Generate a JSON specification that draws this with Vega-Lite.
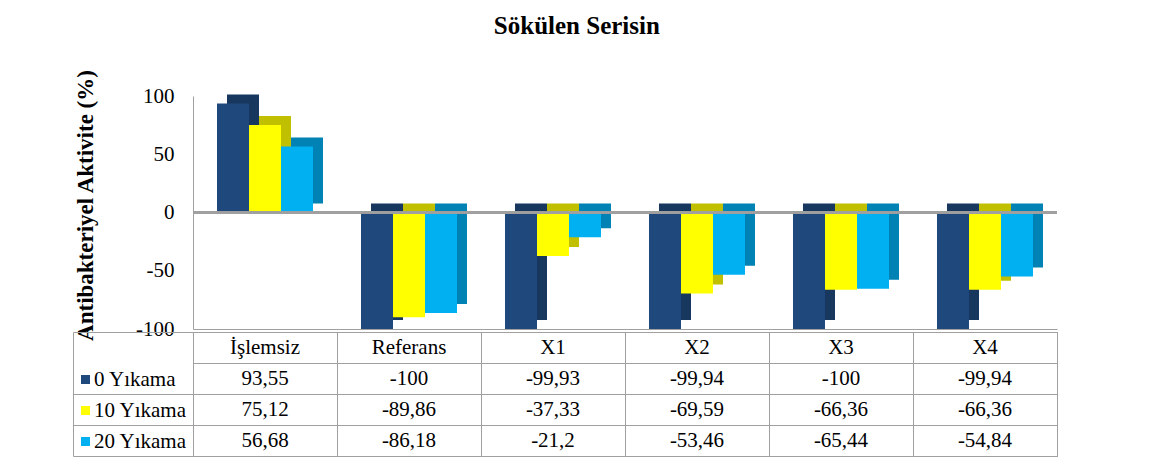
{
  "$schema": "https://vega.github.io/schema/vega-lite/v6.json",
  "padding": {"left": 72, "top": 13, "right": 5, "bottom": 5},
  "title": {"text": "Sökülen Serisin", "font": "Liberation Serif, Times New Roman, serif", "fontSize": 25, "fontWeight": "bold", "anchor": "middle", "offset": 30, "color": "black", "dx": 12},
  "datasets": {
    "vals": [
      {"cat": "İşlemsiz", "series": "0 Yıkama", "value": 93.55},
      {"cat": "İşlemsiz", "series": "10 Yıkama", "value": 75.12},
      {"cat": "İşlemsiz", "series": "20 Yıkama", "value": 56.68},
      {"cat": "Referans", "series": "0 Yıkama", "value": -100},
      {"cat": "Referans", "series": "10 Yıkama", "value": -89.86},
      {"cat": "Referans", "series": "20 Yıkama", "value": -86.18},
      {"cat": "X1", "series": "0 Yıkama", "value": -99.93},
      {"cat": "X1", "series": "10 Yıkama", "value": -37.33},
      {"cat": "X1", "series": "20 Yıkama", "value": -21.2},
      {"cat": "X2", "series": "0 Yıkama", "value": -99.94},
      {"cat": "X2", "series": "10 Yıkama", "value": -69.59},
      {"cat": "X2", "series": "20 Yıkama", "value": -53.46},
      {"cat": "X3", "series": "0 Yıkama", "value": -100},
      {"cat": "X3", "series": "10 Yıkama", "value": -66.36},
      {"cat": "X3", "series": "20 Yıkama", "value": -65.44},
      {"cat": "X4", "series": "0 Yıkama", "value": -99.94},
      {"cat": "X4", "series": "10 Yıkama", "value": -66.36},
      {"cat": "X4", "series": "20 Yıkama", "value": -54.84}
    ]
  },
  "data": {"name": "vals"},
  "spacing": 3,
  "bounds": "flush",
  "vconcat": [
    {
      "width": 864,
      "height": 233,
      "view": {"stroke": null},
      "layer": [
        {
          "mark": {"type": "bar", "yOffset": -9},
          "encoding": {
            "x": {"field": "cat", "type": "nominal", "scale": {"domain": ["İşlemsiz", "Referans", "X1", "X2", "X3", "X4"], "paddingInner": 0.3333, "paddingOuter": 0.1667}, "axis": {"labels": false, "ticks": false, "title": null, "domain": true, "domainColor": "#a0a0a0"}},
            "xOffset": {"field": "series", "type": "nominal", "scale": {"domain": ["0 Yıkama", "10 Yıkama", "20 Yıkama"], "range": [10, 106], "padding": 0}},
            "y": {"field": "value", "type": "quantitative", "scale": {"domain": [-100, 100]}},
            "color": {"field": "series", "type": "nominal", "scale": {"domain": ["0 Yıkama", "10 Yıkama", "20 Yıkama"], "range": ["#17375e", "#c0c000", "#0082b4"]}, "legend": null}
          }
        },
        {
          "mark": {"type": "bar"},
          "encoding": {
            "x": {"field": "cat", "type": "nominal"},
            "xOffset": {"field": "series", "type": "nominal", "scale": {"domain": ["0 Yıkama", "10 Yıkama", "20 Yıkama"], "padding": 0}},
            "y": {"field": "value", "type": "quantitative", "scale": {"domain": [-100, 100]}, "axis": {"values": [-100, -50, 0, 50, 100], "format": "d", "title": "Antibakteriyel Aktivite (%)", "titleFontSize": 23, "titleFontWeight": "bold", "titlePadding": 38, "titleY": 109, "grid": false, "ticks": false, "labelPadding": 19, "domainColor": "#a0a0a0"}},
            "color": {"field": "series", "type": "nominal", "scale": {"domain": ["0 Yıkama", "10 Yıkama", "20 Yıkama"], "range": ["#1f497d", "#ffff00", "#00b0f0"]}, "legend": {"title": null, "orient": "none", "legendX": -118, "legendY": 273, "symbolType": "square", "symbolSize": 81, "symbolStrokeWidth": 0, "labelFont": "Liberation Serif, Times New Roman, serif", "labelFontSize": 21, "labelColor": "black", "labelOffset": -2, "rowPadding": 9, "padding": 0}}
          }
        },
        {
          "mark": {"type": "rule", "color": "#a0a0a0", "strokeWidth": 1.5},
          "encoding": {"y": {"datum": 0}}
        }
      ],
      "resolve": {"scale": {"color": "independent", "xOffset": "independent"}}
    },
    {
      "width": 864,
      "height": 124,
      "view": {"stroke": "#a0a0a0"},
      "layer": [
        {
          "mark": {"type": "text", "font": "Liberation Serif, Times New Roman, serif", "fontSize": 21, "color": "black", "baseline": "middle"},
          "encoding": {
            "x": {"field": "cat", "type": "nominal", "scale": {"domain": ["İşlemsiz", "Referans", "X1", "X2", "X3", "X4"]}, "axis": {"labels": false, "ticks": false, "domain": false, "title": null, "grid": true, "tickBand": "extent", "gridColor": "#a0a0a0"}},
            "y": {"field": "series", "type": "nominal", "scale": {"domain": ["h", "0 Yıkama", "10 Yıkama", "20 Yıkama"]}, "axis": {"labels": false, "title": null, "grid": true, "tickBand": "extent", "gridColor": "#a0a0a0", "ticks": true, "tickSize": -120, "offset": 120, "domain": true, "domainColor": "#a0a0a0", "tickColor": "#a0a0a0", "tickOpacity": {"condition": {"test": "datum.value === 'h'", "value": 0}, "value": 1}}},
            "text": {"field": "value", "type": "quantitative", "format": ".2~f"}
          }
        },
        {
          "transform": [{"filter": "datum.series === '0 Yıkama'"}],
          "mark": {"type": "text", "font": "Liberation Serif, Times New Roman, serif", "fontSize": 21, "color": "black", "baseline": "middle"},
          "encoding": {
            "x": {"field": "cat", "type": "nominal"},
            "y": {"datum": "h"},
            "text": {"field": "cat", "type": "nominal"}
          }
        }
      ]
    }
  ],
  "config": {
    "font": "Liberation Serif, Times New Roman, serif",
    "axis": {"labelFont": "Liberation Serif, Times New Roman, serif", "titleFont": "Liberation Serif, Times New Roman, serif", "labelColor": "black", "titleColor": "black", "labelFontSize": 21},
    "locale": {"number": {"decimal": ",", "thousands": ".", "grouping": [3], "currency": ["", ""], "minus": "-"}}
  }
}
